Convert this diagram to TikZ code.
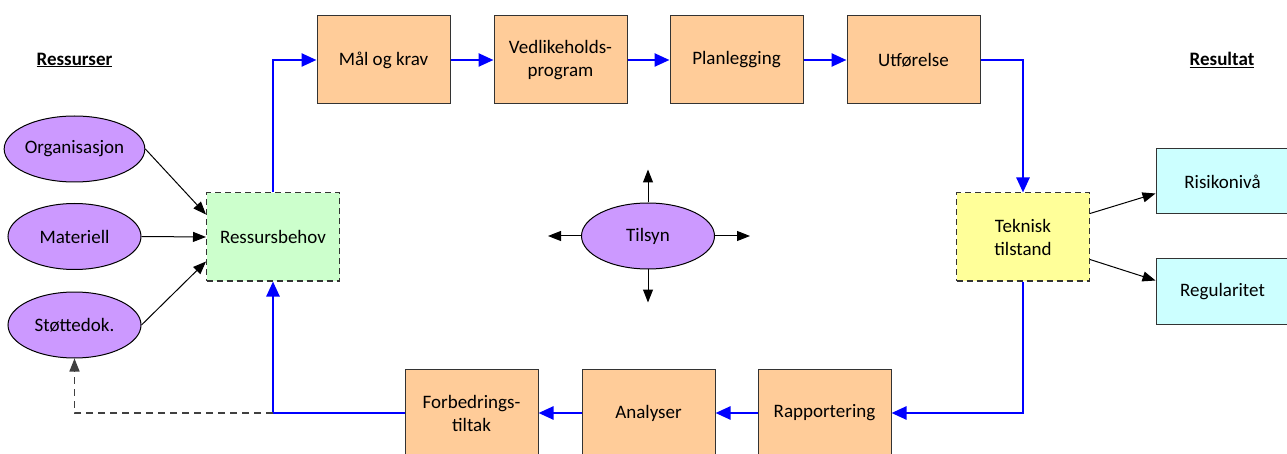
\documentclass[tikz,border=0pt]{standalone}
\usepackage{fontspec}
\setmainfont{Carlito}
\usetikzlibrary{arrows.meta,shapes.geometric}

\definecolor{boxorange}{HTML}{FFCC99}
\definecolor{ovalpurple}{HTML}{CC99FF}
\definecolor{boxgreen}{HTML}{CCFFCC}
\definecolor{boxyellow}{HTML}{FFFF99}
\definecolor{boxcyan}{HTML}{CCFFFF}
\definecolor{flowblue}{HTML}{0000FF}
\definecolor{edgegray}{HTML}{333333}
\definecolor{dashgray}{HTML}{404040}

\tikzset{
  base/.style={font=\fontsize{19}{23}\selectfont, align=center, inner sep=0pt, text=black},
  stepbox/.style={base, draw=edgegray, line width=1pt, fill=boxorange,
    minimum width=133pt, minimum height=88pt},
  dashbox/.style={base, draw=edgegray, line width=1pt, dash pattern=on 6pt off 4pt,
    minimum width=133pt, minimum height=88pt},
  resultbox/.style={base, draw=edgegray, line width=1pt, fill=boxcyan,
    minimum width=133pt, minimum height=65pt},
  oval/.style={base, ellipse, draw=black, line width=1pt, fill=ovalpurple,
    minimum width=133pt, minimum height=66pt},
  heading/.style={base, font=\fontsize{19}{22}\selectfont\bfseries},
  blueflow/.style={draw=flowblue, line width=2.5pt,
    -{Triangle[length=15pt,width=13pt]}},
  blueline/.style={draw=flowblue, line width=2.5pt},
  thinarrow/.style={draw=black, line width=1pt,
    -{Triangle[length=13pt,width=10pt]}},
  feedback/.style={draw=dashgray, line width=1.5pt, dash pattern=on 7pt off 5pt,
    -{Triangle[length=13pt,width=10pt]}},
}

\begin{document}
\begin{tikzpicture}[x=1pt, y=-1pt]
\useasboundingbox (0,0) rectangle (1287,454);

% headings
\node[heading] (hres) at (74.5,60) {\underline{Ressurser}};
\node[heading] (hresult) at (1222,60) {\underline{Resultat}};

% resources
\node[oval] (org)  at (74.5,149) {Organisasjon};
\node[oval] (mat)  at (74.5,236.5) {Materiell};
\node[oval] (stot) at (74.5,325) {Støttedok.};

\node[dashbox, fill=boxgreen] (resb) at (273,237) {Ressursbehov};

% upper process chain
\node[stepbox] (mal) at (383.5,60) {Mål og krav};
\node[stepbox] (ved) at (560.5,60) {Vedlikeholds-\\program};
\node[stepbox] (pla) at (736.5,60) {Planlegging};
\node[stepbox] (utf) at (913.5,60) {Utførelse};

% technical condition and results
\node[dashbox, fill=boxyellow] (tek) at (1023,237) {Teknisk\\tilstand};
\node[resultbox] (ris) at (1222.5,181.5) {Risikonivå};
\node[resultbox] (reg) at (1222.5,291.5) {Regularitet};

% lower process chain
\node[stepbox] (rap) at (824.5,413) {Rapportering};
\node[stepbox] (ana) at (648.5,413) {Analyser};
\node[stepbox] (for) at (471.5,413) {Forbedrings-\\tiltak};

% supervision
\node[oval] (til) at (648,236) {Tilsyn};

% main loop
\draw[blueflow] (resb.north) |- (mal.west);
\draw[blueflow] (mal.east) -- (ved.west);
\draw[blueflow] (ved.east) -- (pla.west);
\draw[blueflow] (pla.east) -- (utf.west);
\draw[blueflow] (utf.east) -| (tek.north);
\draw[blueflow] (tek.south) |- (rap.east);
\draw[blueflow] (rap.west) -- (ana.east);
\draw[blueflow] (ana.west) -- (for.east);
\coordinate (turn) at (resb.south |- for.west);
\draw[blueline] (for.west) -- (turn);
\draw[blueflow] (turn) -- (resb.south);

% feedback to supporting documents
\draw[feedback] (turn) -| (stot.south);

% resources into needs
\draw[thinarrow] (org.east) -- ([yshift=-22pt]resb.north west);
\draw[thinarrow] (mat.east) -- (resb.west);
\draw[thinarrow] (stot.east) -- ([yshift=20pt]resb.south west);

% condition into results
\draw[thinarrow] ([yshift=-21pt]tek.north east) -- ([yshift=21pt]ris.south west);
\draw[thinarrow] ([yshift=22pt]tek.south east) -- ([yshift=44pt]reg.south west);

% supervision arrows
\draw[thinarrow] (til.north) -- ([yshift=33pt]til.north);
\draw[thinarrow] (til.south) -- ([yshift=-33pt]til.south);
\draw[thinarrow] (til.west) -- ([xshift=-33pt]til.west);
\draw[thinarrow] (til.east) -- ([xshift=35pt]til.east);
\end{tikzpicture}
\end{document}
